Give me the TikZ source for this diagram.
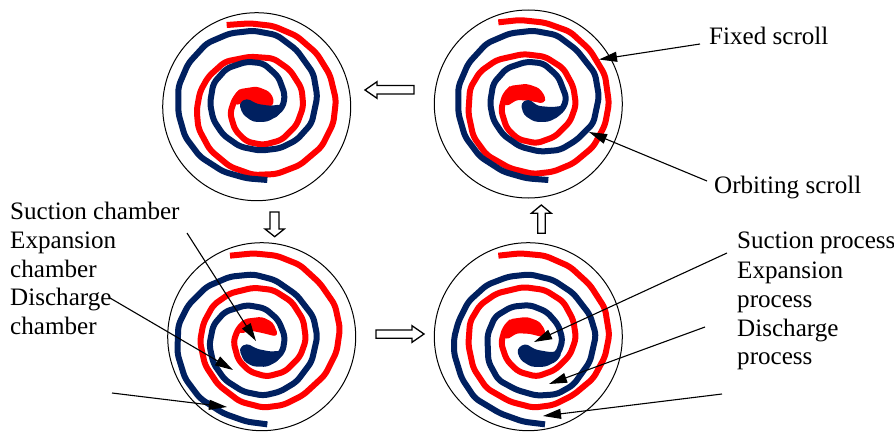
\documentclass[tikz,border=0pt]{standalone}
\usepackage{fontspec}
\setmainfont{Liberation Serif}
\usetikzlibrary{arrows.meta}
\definecolor{scrollblue}{HTML}{002060}
\tikzset{
  redscroll/.style={draw=red,line width=6pt,line join=round,rounded corners=5pt},
  bluescroll/.style={draw=scrollblue,line width=6pt,line join=round,rounded corners=5pt},
  redblob/.style={fill=red,draw=red,line width=3pt,line join=round,rounded corners=3pt},
  blueblob/.style={fill=scrollblue,draw=scrollblue,line width=3pt,line join=round,rounded corners=3pt},
  shell/.style={draw=black,line width=1pt,circle,minimum size=188pt,inner sep=0pt},
  callout/.style={draw=black,line width=1.1pt,-{Triangle[length=18pt,width=10pt]}},
  lbl/.style={anchor=base west,inner sep=0pt,font=\fontsize{25.1pt}{27pt}\selectfont},
  hollow/.style={draw=black,fill=white,line width=1.3pt,line join=miter},
  panel/.style={x=0.33333pt,y=-0.33333pt}
}
\begin{document}
\begin{tikzpicture}[x=1pt,y=-1pt]
\useasboundingbox (0,0) rectangle (894,431);
\fill[white] (0,0) rectangle (894,431);
% shells
\node[shell] (s1) at (256.7,106.7) {};
\node[shell] (s2) at (528.3,104) {};
\node[shell] (s3) at (261.7,336.7) {};
\node[shell] (s4) at (528.3,336.7) {};
% panel 1
\begin{scope}[panel,shift={(150pt,0pt)}]
\path[redscroll] (230,75)--(300,70)--(370,78)--(440,108)--(500,160)--(540,225)--(558,300)--(550,370)--(515,440)--(450,495)--(380,522)--(310,525)--(240,500)--(180,450)--(145,385)--(140,330)--(150,275)--(175,230)--(225,185)--(300,170)--(370,175)--(420,210)--(455,265)--(460,320)--(440,375)--(395,420)--(340,435)--(290,425)--(255,390)--(240,340)--(255,295)--(275,275);
\path[redblob] (250,300)--(268,272)--(320,264)--(355,278)--(368,300)--(362,318)--(330,315)--(290,300)--(255,312)--cycle;
\path[bluescroll] (352,540)--(290,535)--(220,515)--(150,470)--(105,410)--(85,340)--(85,260)--(115,190)--(170,130)--(240,100)--(310,92)--(380,105)--(440,150)--(490,220)--(502,290)--(485,370)--(440,420)--(390,445)--(330,452)--(270,440)--(220,405)--(190,360)--(180,310)--(190,250)--(230,205)--(290,185)--(340,190)--(385,230)--(405,285)--(398,322)--(370,345);
\path[blueblob] (272,312)--(290,300)--(320,316)--(360,322)--(392,318)--(385,342)--(350,361)--(310,361)--(282,340)--cycle;
\end{scope}
% panel 2
\begin{scope}[panel,shift={(430pt,0pt)}]
\path[redscroll] (205,67)--(270,60)--(345,68)--(420,95)--(480,150)--(525,225)--(537,310)--(525,375)--(490,440)--(430,490)--(370,515)--(310,522)--(240,505)--(170,465)--(130,410)--(115,340)--(120,265)--(150,215)--(200,180)--(280,162)--(345,170)--(400,205)--(430,260)--(438,315)--(420,365)--(375,410)--(320,430)--(265,418)--(230,385)--(213,330)--(225,285)--(245,265);
\path[redblob] (222,300)--(240,262)--(290,256)--(325,268)--(342,292)--(340,306)--(300,298)--(260,295)--(228,315)--cycle;
\path[bluescroll] (355,540)--(290,535)--(220,515)--(150,470)--(105,410)--(85,340)--(85,260)--(115,190)--(170,130)--(240,100)--(310,92)--(380,105)--(440,150)--(495,220)--(507,290)--(490,370)--(440,420)--(390,450)--(330,455)--(270,440)--(220,405)--(190,360)--(180,310)--(190,250)--(230,205)--(290,185)--(340,190)--(385,230)--(410,295)--(398,328)--(370,348);
\path[blueblob] (277,312)--(295,302)--(322,322)--(365,326)--(398,322)--(385,345)--(355,361)--(315,361)--(285,342)--cycle;
\end{scope}
% panel 3
\begin{scope}[panel,shift={(150pt,-225pt)}]
\path[redscroll] (240,92)--(310,85)--(380,92)--(450,120)--(510,175)--(555,240)--(570,310)--(560,380)--(525,450)--(460,510)--(400,540)--(340,548)--(270,530)--(205,480)--(165,420)--(150,350)--(160,295)--(190,240)--(240,205)--(310,188)--(370,195)--(425,230)--(460,285)--(468,345)--(450,395)--(405,440)--(350,455)--(300,440)--(265,405)--(250,350)--(265,310)--(285,292);
\path[redblob] (265,312)--(285,286)--(335,280)--(365,295)--(380,330)--(340,320)--(300,312)--(272,322)--cycle;
\path[bluescroll] (352,598)--(290,590)--(220,565)--(150,520)--(105,460)--(82,385)--(85,300)--(115,240)--(170,185)--(240,155)--(310,148)--(375,165)--(440,210)--(490,275)--(502,335)--(485,410)--(440,470)--(390,500)--(340,512)--(280,500)--(225,465)--(190,415)--(178,360)--(190,300)--(225,260)--(290,240)--(345,250)--(385,285)--(405,335)--(398,380)--(370,405);
\path[blueblob] (272,372)--(290,360)--(320,376)--(360,384)--(395,382)--(380,405)--(350,421)--(310,420)--(285,405)--cycle;
\end{scope}
% panel 4
\begin{scope}[panel,shift={(430pt,-225pt)}]
\path[redscroll] (205,92)--(270,85)--(345,92)--(420,125)--(480,180)--(525,250)--(538,330)--(525,395)--(490,460)--(430,510)--(370,540)--(310,548)--(240,530)--(170,490)--(130,430)--(115,360)--(120,290)--(150,240)--(200,205)--(280,186)--(345,195)--(400,230)--(430,285)--(438,340)--(420,390)--(375,435)--(320,455)--(265,440)--(230,405)--(213,355)--(225,310)--(245,290);
\path[redblob] (222,325)--(240,287)--(290,280)--(325,293)--(342,318)--(340,332)--(300,322)--(260,320)--(228,340)--cycle;
\path[bluescroll] (345,598)--(280,590)--(210,565)--(135,520)--(95,460)--(72,385)--(72,340)--(85,290)--(115,230)--(170,180)--(235,155)--(300,148)--(370,165)--(430,205)--(480,270)--(498,330)--(480,410)--(430,480)--(380,508)--(320,512)--(260,495)--(205,465)--(175,410)--(172,330)--(195,275)--(245,245)--(300,240)--(350,260)--(385,300)--(398,345)--(385,385)--(360,400);
\path[blueblob] (265,375)--(285,360)--(315,378)--(360,386)--(392,382)--(378,405)--(345,421)--(305,421)--(275,402)--cycle;
\end{scope}
% hollow arrows
\path[hollow] (365,90)--(377,81.7)--(377,85.5)--(414,85.5)--(414,94)--(377,94)--(377,98.3)--cycle;
\path[hollow] (424,334)--(412,325.7)--(412,330)--(376,330)--(376,338.3)--(412,338.3)--(412,342.3)--cycle;
\path[hollow] (274.7,236.7)--(265,229)--(270,229)--(270,212)--(279,212)--(279,229)--(284.3,229)--cycle;
\path[hollow] (541.3,205)--(531.3,213.3)--(537.7,213.3)--(537.7,233.3)--(545.3,233.3)--(545.3,213.3)--(551.3,213.3)--cycle;
% labels
\node[lbl] (fixed) at (709,44) {Fixed scroll};
\node[lbl] (orbit) at (714,193) {Orbiting scroll};
\node[lbl] (lsc) at (10,219) {Suction chamber};
\node[lbl] (lec) at (10,248) {Expansion};
\node[lbl] (lc2) at (10,277) {chamber};
\node[lbl] (ldc) at (10,305) {Discharge};
\node[lbl] (lc3) at (10,334) {chamber};
\node[lbl] (rsp) at (737,248) {Suction process};
\node[lbl] (rep) at (737,278) {Expansion};
\node[lbl] (rp2) at (737,307) {process};
\node[lbl] (rdp) at (737,336) {Discharge};
\node[lbl] (rp3) at (737,364) {process};
% callouts
\coordinate (a1s) at (700,44); \coordinate (a1t) at (599,59.5);
\coordinate (a2s) at (707,181); \coordinate (a2t) at (589,132);
\coordinate (a3s) at (187,233); \coordinate (a3t) at (256,341);
\coordinate (a4s) at (110,298); \coordinate (a4t) at (233,370);
\coordinate (a5s) at (112,393); \coordinate (a5t) at (227,407);
\coordinate (a6s) at (727,253); \coordinate (a6t) at (534,342);
\coordinate (a7s) at (705,327); \coordinate (a7t) at (549,384);
\coordinate (a8s) at (722,394); \coordinate (a8t) at (543,416);
\foreach \n in {1,...,8} {\draw[callout] (a\n s) -- (a\n t);}
\end{tikzpicture}
\end{document}
